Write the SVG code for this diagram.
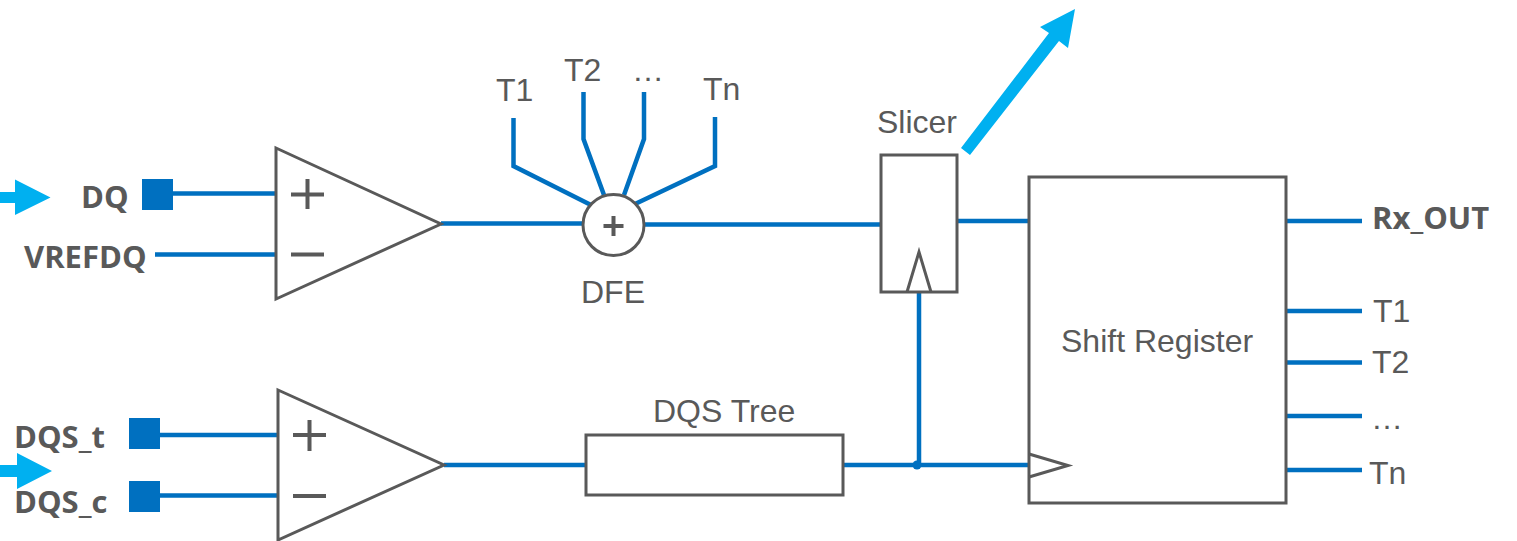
<svg xmlns="http://www.w3.org/2000/svg" width="1517" height="541" viewBox="0 0 1517 541">
<style>
.b{stroke:#0070C0;stroke-width:4.500;fill:none}
.g{stroke:#595959;stroke-width:3;fill:#fff}
.o{stroke:#595959;stroke-width:3;fill:none}
.p{stroke:#595959;stroke-width:4;fill:none}
.s{fill:#0070C0}
.a{fill:#00B0F0}
text{fill:#595959;font-family:"Liberation Sans",Arial,sans-serif;font-size:32px}
.t{font-family:"Open Sans","Liberation Sans",sans-serif;font-weight:700;font-size:31px}
</style>
<rect width="1517" height="541" fill="#fff"/>
<g id="connectors">
<path class="b" d="M173 193.500H276M155 254.500H276M160 435H278M160 495.500H278"/>
<path class="b" d="M441 223.500H583M645 224.500H881M957 221H1029M444 465H586M843 465H1029M919 292V465"/>
<path class="b" d="M513.500 118V166L591 205M583.500 92V139L604 195M644 92V139L624 195M715 117V166L635 204"/>
<path class="b" d="M1286 221H1362M1286 311H1362M1286 362.500H1362M1286 416H1362M1286 470H1362"/>
<circle class="s" cx="917" cy="465" r="4.500"/>
</g>
<g id="arrows">
<polygon class="a" points="0,192 15,192 15,179.500 50.500,197.500 15,215 15,203 0,203"/>
<polygon class="a" points="0,465 17,465 17,453 52,471 17,489 17,477 0,477"/>
<polygon class="a" points="961,148 1049,33 1040,27 1075,9 1068,48 1059,41 970,155"/>
</g>
<g id="pin-dq"><rect class="s" x="142" y="179" width="31" height="31"/><text class="t" x="81" y="208">DQ</text></g>
<g id="pin-vrefdq"><text class="t" x="24" y="268">VREFDQ</text></g>
<g id="pin-dqs-t"><rect class="s" x="129" y="418" width="31" height="31"/><text class="t" x="14" y="448">DQS_t</text></g>
<g id="pin-dqs-c"><rect class="s" x="129" y="481" width="31" height="31"/><text class="t" x="14" y="513">DQS_c</text></g>
<g id="amp-dq">
<polygon class="g" points="276,148 441,224 276,299"/>
<path class="p" d="M291 194.500H324M307.500 179V209M291 254.500H324"/>
</g>
<g id="amp-dqs">
<polygon class="g" points="278,390 444,465 278,540"/>
<path class="p" d="M293 435H326M309.500 420V451M293 496H326"/>
</g>
<g id="dfe">
<circle class="g" cx="613.500" cy="225" r="30.500"/>
<path class="p" d="M603.500 226H623.500M613.500 216V236"/>
<text x="581" y="303">DFE</text>
</g>
<g id="taps">
<text x="496" y="101">T1</text>
<text x="564" y="81">T2</text>
<text x="632" y="81">…</text>
<text x="703" y="100">Tn</text>
</g>
<g id="slicer">
<rect class="g" x="881" y="155" width="76" height="137"/>
<path class="o" d="M907 292L919 252L931 292"/>
<text x="877" y="133">Slicer</text>
</g>
<g id="dqs-tree">
<rect class="g" x="586" y="435" width="257" height="60"/>
<text x="653" y="422">DQS Tree</text>
</g>
<g id="shift-register">
<rect class="g" x="1029" y="177" width="257" height="326"/>
<path class="o" d="M1029 454L1068 465.500L1029 477"/>
<text x="1061" y="352">Shift Register</text>
</g>
<g id="outputs">
<text class="t" x="1372" y="229">Rx_OUT</text>
<text x="1373" y="322">T1</text>
<text x="1372" y="373">T2</text>
<text x="1371" y="429">…</text>
<text x="1369" y="484">Tn</text>
</g>
</svg>
